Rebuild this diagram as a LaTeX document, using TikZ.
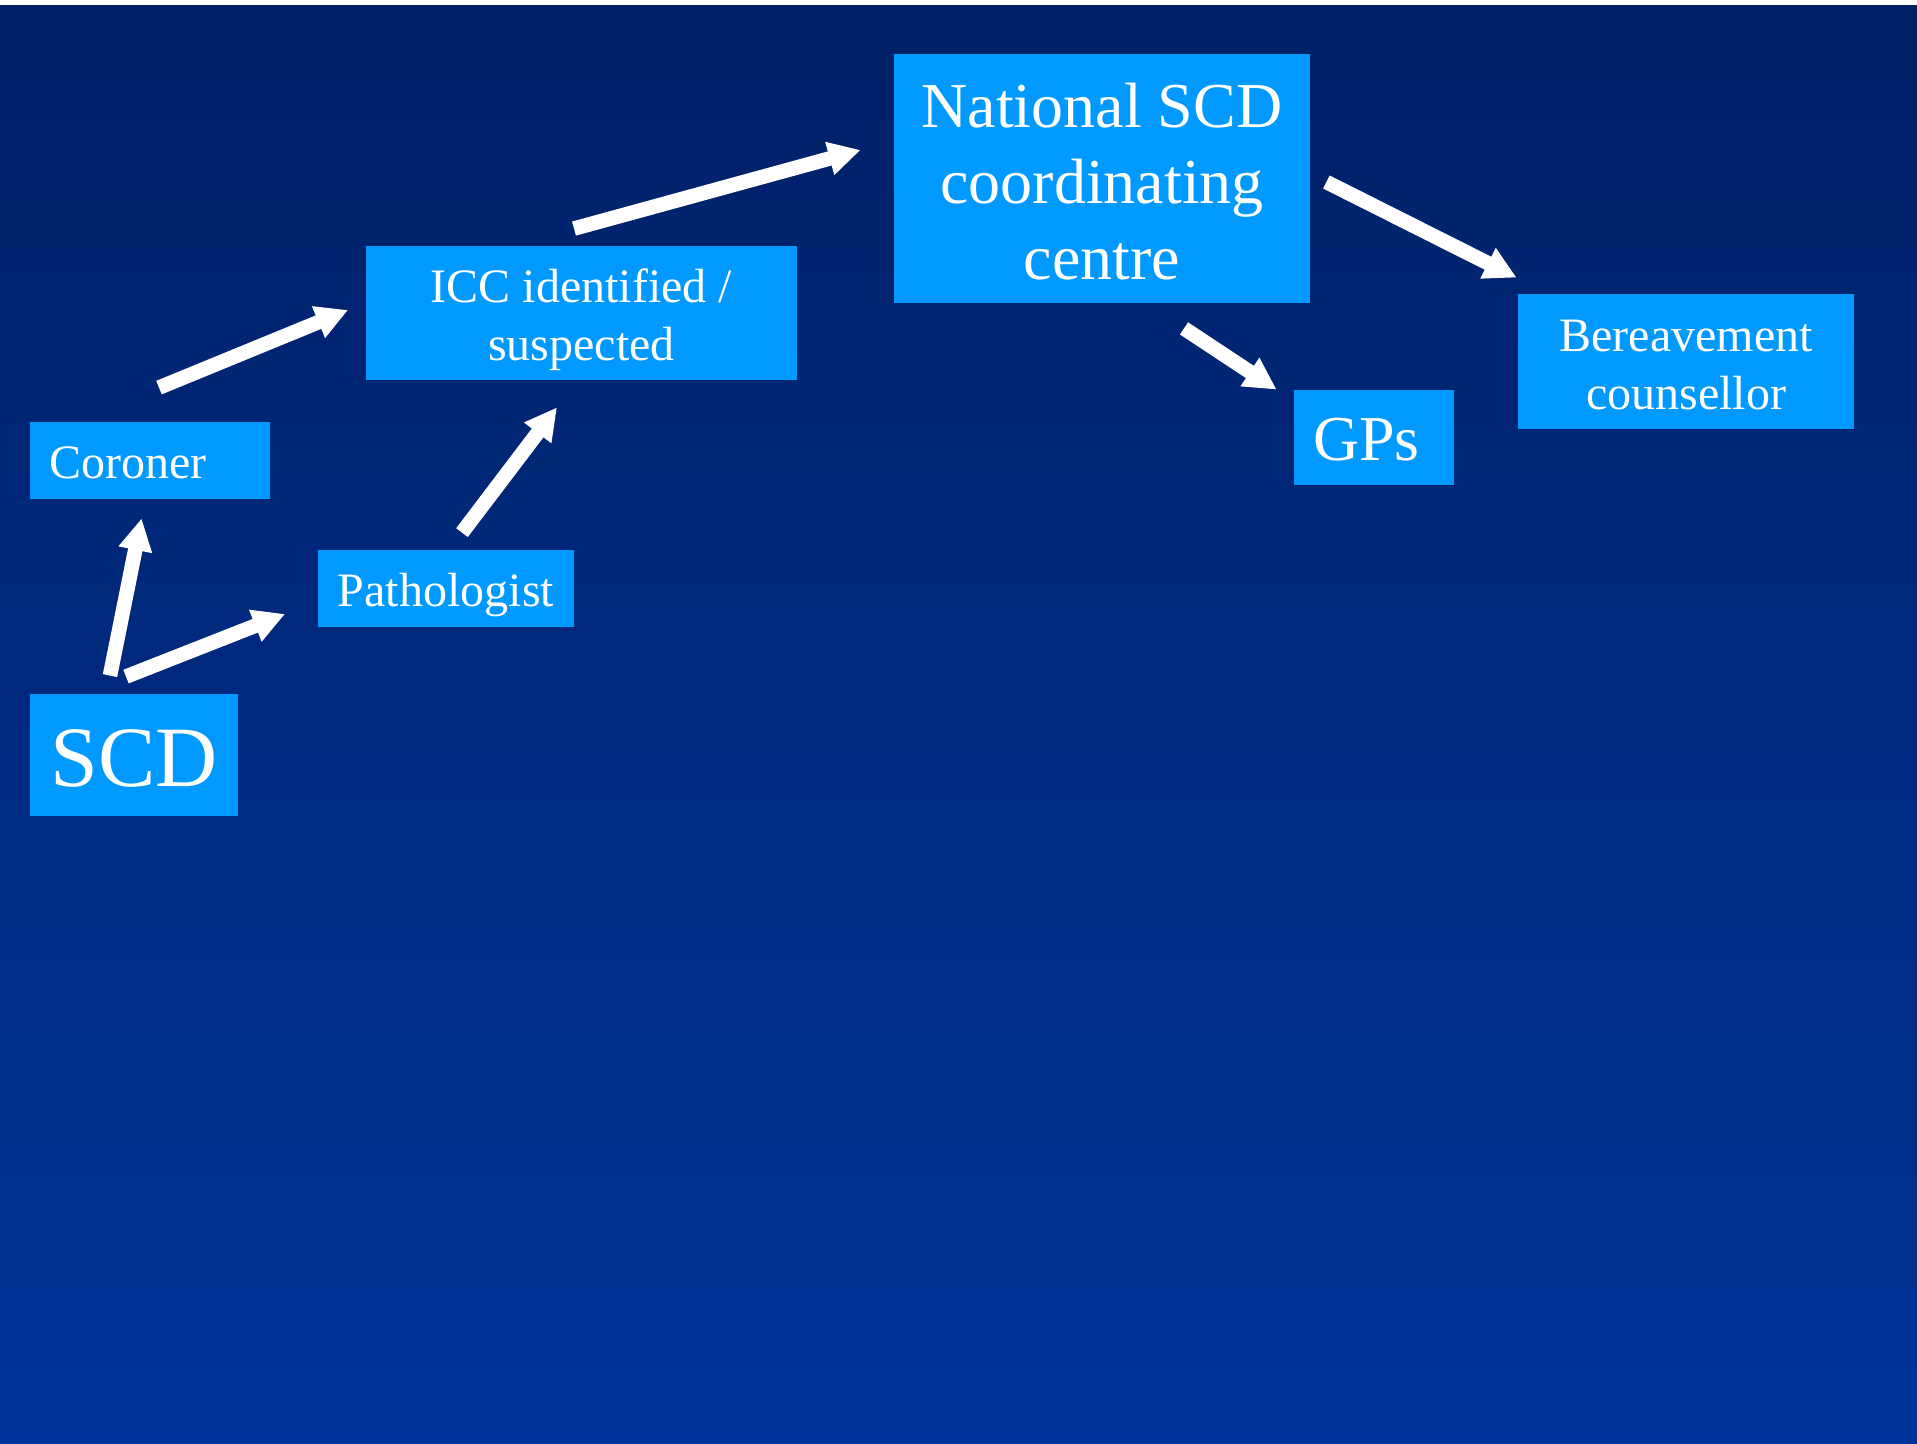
\documentclass[tikz,border=0pt]{standalone}
\usepackage{fontspec}
\setmainfont{Liberation Serif}
\usetikzlibrary{arrows.meta,calc}
\definecolor{bgtop}{RGB}{0,32,102}
\definecolor{bgbot}{RGB}{0,51,153}
\definecolor{boxblue}{RGB}{0,153,255}
\begin{document}
\begin{tikzpicture}[x=0.5pt,y=-0.5pt,
  box/.style={fill=boxblue, draw=none, text=white, inner sep=0pt, align=center},
  small/.style={font=\fontsize{24}{29}\selectfont},
  big/.style={font=\fontsize{32}{38}\selectfont},
  flow/.style={draw=white, line width=7.3pt, -{Triangle[length=16pt,width=16pt]}},
]
\useasboundingbox (0,0) rectangle (1917,1444);
\fill[white] (0,0) rectangle (1917,6);
\shade[top color=bgtop, bottom color=bgbot] (0,6) rectangle (1917,1444);

\node[box, minimum width=104pt, minimum height=61pt, font=\fontsize{43}{52}\selectfont, text height=31.7pt, text depth=0pt] (scd) at (134,755) {SCD};
\node[box, small, minimum height=38.5pt, text width=101pt, inner xsep=9.5pt, align=left, text height=17.7pt, text depth=0pt] (coroner) at (150,460.5) {Coroner};
\node[box, small, minimum width=128pt, minimum height=38.5pt, text height=17.7pt, text depth=0pt] (path) at (446,588.5) {Pathologist};
\node[box, small, minimum width=215.5pt, minimum height=67pt, text depth=0pt] (icc) at (581.5,313) {\rule{0pt}{19pt}ICC identified /\\suspected};
\node[box, big, minimum width=208pt, minimum height=124.5pt] (nat) at (1102,178.5) {\rule{0pt}{25pt}National SCD\\coordinating\\centre};
\node[box, big, minimum height=47.5pt, text width=61pt, inner xsep=9.5pt, align=left, text height=23.5pt, text depth=0pt] (gps) at (1374,437.5) {GPs};
\node[box, small, minimum width=168pt, minimum height=67.5pt] (ber) at (1686,361.5) {\rule{0pt}{19pt}Bereavement\\counsellor};

\draw[flow] ($(scd.north)+(-24,-18)$) -- ($(coroner.south)+(-8.4,19)$);
\draw[flow] ($(scd.north)+(-8,-17)$) -- ($(path.west)+(-32.5,25.5)$);
\draw[flow] ($(coroner.north)+(9,-34)$) -- ($(icc.west)+(-17.5,-3)$);
\draw[flow] ($(path.north)+(16,-17)$) -- ($(icc.south)+(-24.5,27)$);
\draw[flow] ($(icc.north)+(-7.5,-17)$) -- ($(nat.west)+(-33,-28.5)$);
\draw[flow] ($(nat.south)+(82,25)$) -- ($(gps.north west)+(-17,0)$);
\draw[flow] ($(nat.east)+(16,3.5)$) -- ($(ber.north west)+(-1,-16)$);
\end{tikzpicture}
\end{document}
